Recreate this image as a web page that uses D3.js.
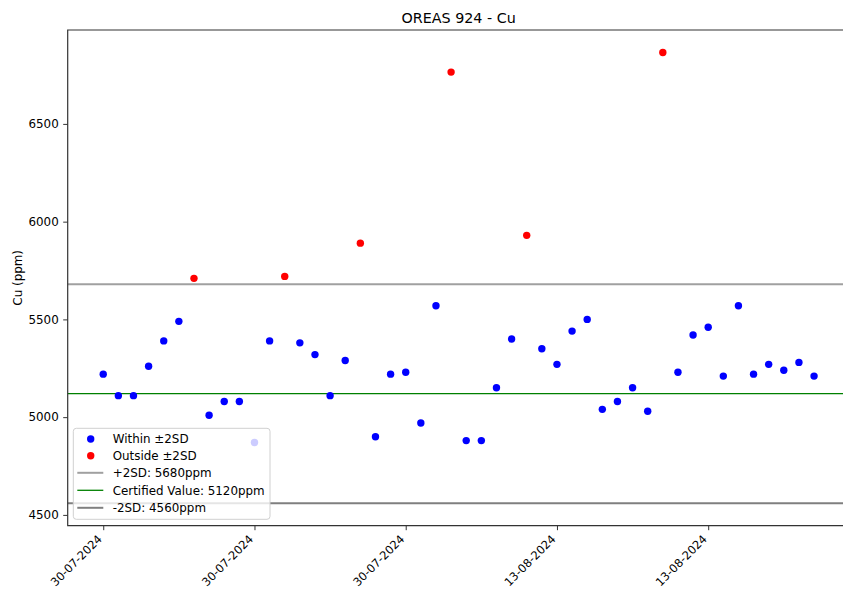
<!DOCTYPE html>
<html>
<head>
<meta charset="utf-8">
<script src="https://cdn.jsdelivr.net/npm/d3@7/dist/d3.min.js"></script>
<style>
  html, body { margin: 0; padding: 0; background: #fff; overflow: hidden; }
  svg { display: block; font-family: "DejaVu Sans", sans-serif; }
</style>
</head>
<body>
<svg id="chart" width="843" height="589"></svg>
<script>
// ---- data ----
const title = "OREAS 924 - Cu";
const yLabel = "Cu (ppm)";
const values = [
  5220, 5110, 5110, 5260, 5390, 5490, 5710, 5010, 5080, 5080,
  4870, 5390, 5720, 5380, 5320, 5110, 5290, 5890, 4900, 5220,
  5230, 4970, 5570, 6765, 4880, 4880, 5150, 5400, 5930, 5350,
  5270, 5440, 5500, 5040, 5080, 5150, 5030, 6865, 5230, 5420,
  5460, 5210, 5570, 5220, 5270, 5240, 5280, 5210
];
const certified = 5120;
const plus2SD = 5680;
const minus2SD = 4560;
const xTickIndex = [0, 10, 20, 30, 40];
const xTickLabels = ["30-07-2024", "30-07-2024", "30-07-2024", "13-08-2024", "13-08-2024"];
const yTicks = [4500, 5000, 5500, 6000, 6500];
const legendLabels = ["Within \u00b12SD", "Outside \u00b12SD", "+2SD: 5680ppm", "Certified Value: 5120ppm", "-2SD: 4560ppm"];

(function () {
// ---- layout ----
const mLeft = 67.7, mRight = 849.6, mTop = 30, mBottom = 525.7;
const svg = d3.select("#chart");

const n = values.length;
const xPad = (n - 1) * 0.05;
const x = d3.scaleLinear().domain([-xPad, (n - 1) + xPad]).range([mLeft, mRight]);
const yMax = d3.max(values), yMin = minus2SD;
const yPad = (yMax - yMin) * 0.05;
const y = d3.scaleLinear().domain([yMin - yPad, yMax + yPad]).range([mBottom, mTop]);

const fs = 11.9;

// reference lines
const refLines = [
  { v: plus2SD, color: "#a0a0a0", w: 2 },
  { v: certified, color: "#008000", w: 1.3 },
  { v: minus2SD, color: "#7f7f7f", w: 2 }
];
svg.append("g").selectAll("line").data(refLines).join("line")
  .attr("x1", mLeft).attr("x2", mRight)
  .attr("y1", d => y(d.v)).attr("y2", d => y(d.v))
  .attr("stroke", d => d.color).attr("stroke-width", d => d.w);

// points
const isOut = v => v > plus2SD || v < minus2SD;
svg.append("g").selectAll("circle").data(values).join("circle")
  .attr("cx", (d, i) => x(i)).attr("cy", d => y(d)).attr("r", 3.7)
  .attr("fill", d => isOut(d) ? "#ff0000" : "#0000ff");

// axes
const yAxis = d3.axisLeft(y).tickValues(yTicks).tickSize(4.5).tickPadding(4.5).tickFormat(d3.format("d"));
const gy = svg.append("g").attr("transform", `translate(${mLeft},0)`).call(yAxis);
gy.select(".domain").remove();
gy.selectAll("text").attr("font-size", fs).attr("fill", "#000").attr("font-family", "DejaVu Sans");
gy.selectAll("line").attr("stroke", "#333");

const xAxis = d3.axisBottom(x).tickValues(xTickIndex).tickSize(4.5).tickFormat((d, i) => xTickLabels[i]);
const gx = svg.append("g").attr("transform", `translate(0,${mBottom})`).call(xAxis);
gx.select(".domain").remove();
gx.selectAll("line").attr("stroke", "#333");
gx.selectAll("text")
  .attr("font-size", 11.5).attr("fill", "#000").attr("font-family", "DejaVu Sans")
  .attr("text-anchor", "end")
  .attr("y", 0).attr("dy", 0)
  .attr("transform", "translate(-1,14) rotate(-45)");

// frame (left, top, bottom)
svg.append("path")
  .attr("d", `M${mRight},${mTop}H${mLeft}V${mBottom}H${mRight}`)
  .attr("fill", "none").attr("stroke", "#333").attr("stroke-width", 1.2);

// title & y label
svg.append("text").attr("x", (mLeft + mRight) / 2).attr("y", 23)
  .attr("text-anchor", "middle").attr("font-size", 14.3).text(title);
svg.append("text").attr("transform", `translate(22,${(mTop + mBottom) / 2}) rotate(-90)`)
  .attr("text-anchor", "middle").attr("font-size", fs).text(yLabel);

// legend
const lg = svg.append("g");
lg.append("rect").attr("x", 73.3).attr("y", 428.3).attr("width", 196.7).attr("height", 91)
  .attr("rx", 3).attr("fill", "#fff").attr("fill-opacity", 0.8)
  .attr("stroke", "#d0d0d0").attr("stroke-width", 1);
const rowY = [439, 455.8, 472.8, 490.3, 507.8];
const legendItems = [
  { type: "dot", color: "#0000ff" },
  { type: "dot", color: "#ff0000" },
  { type: "line", color: refLines[0].color, w: refLines[0].w },
  { type: "line", color: refLines[1].color, w: refLines[1].w },
  { type: "line", color: refLines[2].color, w: refLines[2].w }
];
legendItems.forEach((it, i) => {
  if (it.type === "dot") {
    lg.append("circle").attr("cx", 90.7).attr("cy", rowY[i]).attr("r", 3.7).attr("fill", it.color);
  } else {
    lg.append("line").attr("x1", 77.3).attr("x2", 103.3).attr("y1", rowY[i]).attr("y2", rowY[i])
      .attr("stroke", it.color).attr("stroke-width", it.w);
  }
  lg.append("text").attr("x", 112.7).attr("y", rowY[i] + 4.3).attr("font-size", fs).text(legendLabels[i]);
});
})();
</script>
</body>
</html>
